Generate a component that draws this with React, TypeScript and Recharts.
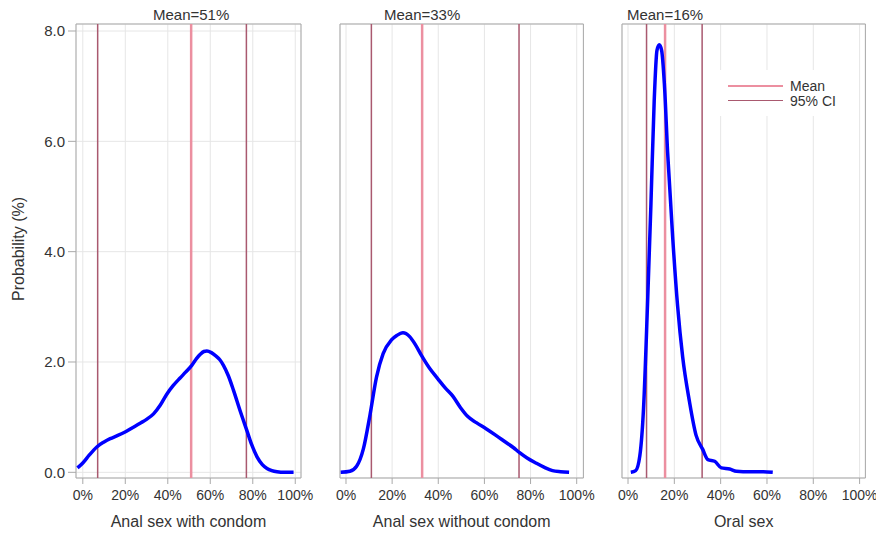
import React from 'react';
import { LineChart, Line, XAxis, YAxis, CartesianGrid, ReferenceLine, ReferenceArea, Legend } from 'recharts';

const xTicks = [0, 20, 40, 60, 80, 100];
const yTicks = [0, 2, 4, 6, 8];

// Anal sex with condom
const withCondomPct = [-2.5, 0, 3, 6.6, 10, 12.9, 16, 19.9, 23, 27, 30, 33.3, 36.5, 39.6, 42.5, 45.8, 48.5, 51.3, 53.5, 55.3, 57, 58.4, 60.5, 62.3, 64.5, 66.2, 68.5, 70.9, 74, 77.2, 79.5, 82, 84.5, 86.7, 89, 91.4, 95, 99.2];
const withCondomProb = [0.08, 0.17, 0.31, 0.46, 0.55, 0.61, 0.66, 0.73, 0.8, 0.89, 0.96, 1.06, 1.22, 1.42, 1.57, 1.71, 1.82, 1.94, 2.06, 2.14, 2.19, 2.2, 2.17, 2.12, 2.04, 1.94, 1.75, 1.49, 1.12, 0.76, 0.5, 0.28, 0.14, 0.07, 0.03, 0.01, 0, 0];

// Anal sex without condom
const withoutCondomPct = [-2.3, 1.7, 4.6, 7.5, 10.4, 13.2, 16.1, 19.7, 22, 24.7, 27.6, 30, 32.7, 36, 39.9, 43, 46.3, 49.5, 52.8, 56.5, 60.7, 65, 69.4, 72.5, 75.1, 78.5, 82.3, 86, 89.5, 93, 96.7];
const withoutCondomProb = [0, 0.02, 0.11, 0.42, 1.04, 1.72, 2.15, 2.4, 2.48, 2.53, 2.46, 2.32, 2.12, 1.9, 1.69, 1.53, 1.38, 1.18, 1.01, 0.9, 0.79, 0.67, 0.54, 0.45, 0.36, 0.26, 0.17, 0.09, 0.03, 0.01, 0];

// Oral sex
const oralPct = [1.2, 3.3, 5.1, 6.7, 8.4, 9.9, 11.3, 12.5, 13.5, 14.5, 15.7, 17.1, 19.3, 21.4, 23.6, 26.5, 29.4, 32.2, 34.5, 37.4, 40.3, 43.9, 46.8, 52.6, 58.4, 62.5];
const oralProb = [0, 0.03, 0.3, 1.16, 3.02, 4.87, 6.73, 7.65, 7.75, 7.65, 7.04, 5.8, 4.25, 3.02, 2.09, 1.29, 0.67, 0.42, 0.23, 0.2, 0.08, 0.06, 0.02, 0.01, 0.01, 0];

const means = [51, 33, 16];
const ciLow = [7, 11, 8];
const ciHigh = [77, 75, 32];
const xLabels = ['Anal sex with condom', 'Anal sex without condom', 'Oral sex'];

const MEAN_COLOR = '#ec8fa0';
const CI_COLOR = '#a9596f';
const GRID = '#e6e6e6';
const FRAME = '#a9a9a9';
const TEXT = '#333333';

const legendItems = [
  { label: 'Mean', color: MEAN_COLOR, width: 2.5 },
  { label: '95% CI', color: CI_COLOR, width: 1.5 },
];

const toRows = (xs: number[], ys: number[]) => xs.map((x, i) => ({ x, p: ys[i] }));

const Y_DOMAIN: [number, number] = [-0.103, 8.127];

function YTitle({ viewBox }: any) {
  const cy = viewBox.y + viewBox.height / 2 - 2;
  return (
    <text x={24} y={cy} transform={`rotate(-90, 24, ${cy})`} textAnchor="middle" fill={TEXT} fontSize={16}>
      Probability (%)
    </text>
  );
}

function LegendBox() {
  return (
    <div style={{ background: '#fff', padding: '8px 10px 8px 18px', width: 112 }}>
      {legendItems.map(it => (
        <div key={it.label} style={{ display: 'flex', alignItems: 'center', height: 15, fontSize: 14, color: TEXT }}>
          <span style={{ display: 'inline-block', width: 55, height: 0, borderTop: `${it.width}px solid ${it.color}`, marginRight: 7 }} />
          {it.label}
        </div>
      ))}
    </div>
  );
}

interface PanelProps {
  idx: number;
  data: { x: number; p: number }[];
  plotLeft: number;
  plotWidth: number;
  xDomain: [number, number];
  showY?: boolean;
  showLegend?: boolean;
}

function Panel({ idx, data, plotLeft, plotWidth, xDomain, showY, showLegend }: PanelProps) {
  const yW = showY ? 60 : 0;
  const ml = showY ? plotLeft - yW : 12;
  const left = showY ? 0 : plotLeft - 12;
  const width = ml + yW + plotWidth + 20;
  return (
    <div style={{ position: 'absolute', left, top: 0 }}>
      <LineChart width={width} height={533} data={data} margin={{ top: 24, right: 20, bottom: 0, left: ml }}>
        <CartesianGrid stroke={GRID} strokeWidth={1} />
        <XAxis
          type="number"
          dataKey="x"
          domain={xDomain}
          ticks={xTicks}
          allowDataOverflow
          tickFormatter={v => `${v}%`}
          height={55}
          axisLine={false}
          tickLine={{ stroke: FRAME }}
          tickSize={6}
          tickMargin={6}
          tick={{ fill: TEXT, fontSize: 14 }}
          label={{ value: xLabels[idx], position: 'insideBottom', offset: 6, fill: TEXT, fontSize: 16 }}
        />
        <YAxis
          type="number"
          domain={Y_DOMAIN}
          ticks={yTicks}
          allowDataOverflow
          width={yW}
          axisLine={false}
          tick={showY ? { fill: TEXT, fontSize: 15 } : false}
          tickLine={showY ? { stroke: FRAME } : false}
          tickSize={8}
          tickMargin={3}
          tickFormatter={v => Number(v).toFixed(1)}
          label={showY ? <YTitle /> : undefined}
        />
        <ReferenceArea x1={xDomain[0]} x2={xDomain[1]} y1={Y_DOMAIN[0]} y2={Y_DOMAIN[1]} fill="none" stroke={FRAME} strokeWidth={1} />
        <ReferenceLine x={ciLow[idx]} stroke={CI_COLOR} strokeWidth={1.5} />
        <ReferenceLine x={ciHigh[idx]} stroke={CI_COLOR} strokeWidth={1.5} />
        <ReferenceLine
          x={means[idx]}
          stroke={MEAN_COLOR}
          strokeWidth={2.5}
          label={{ value: `Mean=${means[idx]}%`, position: 'top', offset: 4, fill: TEXT, fontSize: 15 }}
        />
        <Line
          type="monotone"
          dataKey="p"
          stroke="#0000ff"
          strokeWidth={3.5}
          dot={false}
          activeDot={false}
          isAnimationActive={false}
        />
        {showLegend && (
          <Legend
            layout="horizontal"
            verticalAlign="middle"
            align="center"
            wrapperStyle={{ left: 710 - left, top: 70, width: 'auto' }}
            content={() => <LegendBox />}
          />
        )}
      </LineChart>
    </div>
  );
}

export default function App() {
  return (
    <div
      style={{
        position: 'absolute',
        left: 0,
        top: 0,
        width: 876,
        height: 533,
        background: '#fff',
        fontFamily: '"Liberation Sans", Arial, sans-serif',
      }}
    >
      <Panel idx={0} data={toRows(withCondomPct, withCondomProb)} plotLeft={76} plotWidth={225} xDomain={[-3.2, 102.7]} showY />
      <Panel idx={1} data={toRows(withoutCondomPct, withoutCondomProb)} plotLeft={340} plotWidth={243.4} xDomain={[-2.6, 102.9]} />
      <Panel idx={2} data={toRows(oralPct, oralProb)} plotLeft={621.7} plotWidth={243.4} xDomain={[-2.6, 102.5]} showLegend />
    </div>
  );
}
